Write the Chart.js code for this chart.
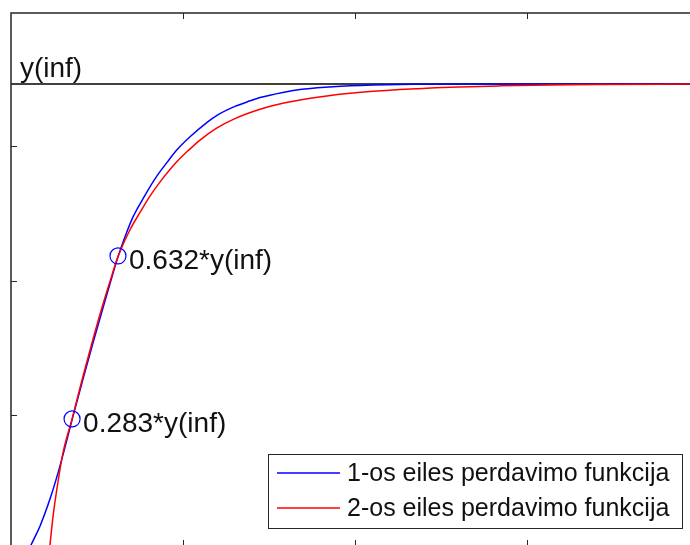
<!DOCTYPE html>
<html>
<head>
<meta charset="utf-8">
<script src="https://cdn.jsdelivr.net/npm/chart.js@4.4.1/dist/chart.umd.min.js"></script>
<style>
    html, body { margin: 0; padding: 0; background: #fff; overflow: hidden; }
    #chart { display: block; }
</style>
</head>
<body>
<canvas id="chart" width="690" height="546"></canvas>
<script>
// Series (time, response)
const blueX = [0.099, 0.128, 0.169, 0.227, 0.273, 0.308, 0.355, 0.419, 0.477, 0.535, 0.576, 0.622, 0.663, 0.709, 0.767, 0.837, 0.913, 0.965, 1.041, 1.140, 1.198, 1.302, 1.390, 1.448, 1.581, 1.680, 1.826, 1.971, 2.262, 2.610, 2.959, 3.424, 3.948];
const blueY = [0.000, 0.022, 0.054, 0.112, 0.167, 0.214, 0.281, 0.369, 0.446, 0.521, 0.573, 0.630, 0.673, 0.715, 0.754, 0.797, 0.835, 0.859, 0.887, 0.918, 0.933, 0.952, 0.964, 0.971, 0.982, 0.988, 0.993, 0.996, 0.999, 1.000, 1.000, 1.000, 1.000];

const redX = [0.215, 0.227, 0.244, 0.273, 0.302, 0.355, 0.419, 0.477, 0.535, 0.576, 0.622, 0.692, 0.750, 0.808, 0.866, 0.965, 1.029, 1.099, 1.198, 1.302, 1.448, 1.581, 1.680, 1.826, 1.971, 2.262, 2.552, 2.843, 3.134, 3.424, 3.948];
const redY = [-0.023, 0.015, 0.073, 0.148, 0.210, 0.283, 0.375, 0.454, 0.529, 0.578, 0.630, 0.688, 0.725, 0.760, 0.790, 0.834, 0.857, 0.880, 0.906, 0.926, 0.946, 0.959, 0.966, 0.974, 0.980, 0.988, 0.993, 0.996, 0.998, 0.999, 1.000];

const seriesLabels = ["1-os eiles perdavimo funkcija", "2-os eiles perdavimo funkcija"];

// Marked points and their labels
const markX = [0.355, 0.622];
const markY = [0.283, 0.632];
const markLabels = ["0.283*y(inf)", "0.632*y(inf)"];

const yInf = 1;
const yInfLabel = "y(inf)";

// Axis range and tick positions
const xMin = 0, xMax = 3.948;
const yMin = 0.011, yMax = 1.152;
const xTicks = [1, 2, 3];
const yTicks = [0.2915, 0.5783, 0.8673];

const FONT = '"Liberation Sans", Arial, sans-serif';

function toPoints(xs, ys) {
    return xs.map((x, i) => ({ x: x, y: ys[i] }));
}

// Box, inward ticks, text labels and legend
const decorations = {
    id: "decorations",
    afterDatasetsDraw(chart) {
        const ctx = chart.ctx;
        const a = chart.chartArea;
        const xs = chart.scales.x;
        const ys = chart.scales.y;

        ctx.save();
        ctx.strokeStyle = "#262626";
        ctx.lineWidth = 1.5;
        ctx.beginPath();
        ctx.moveTo(a.left, a.bottom);
        ctx.lineTo(a.left, a.top);
        ctx.lineTo(a.right, a.top);
        ctx.moveTo(a.left, a.bottom);
        ctx.lineTo(a.right, a.bottom);
        ctx.stroke();

        ctx.lineWidth = 1;
        ctx.beginPath();
        xTicks.forEach(t => {
            const px = Math.round(xs.getPixelForValue(t)) + 0.5;
            ctx.moveTo(px, a.top);
            ctx.lineTo(px, a.top + 6);
            ctx.moveTo(px, a.bottom);
            ctx.lineTo(px, a.bottom - 6);
        });
        yTicks.forEach(t => {
            const py = Math.round(ys.getPixelForValue(t)) + 0.5;
            ctx.moveTo(a.left, py);
            ctx.lineTo(a.left + 6, py);
        });
        ctx.stroke();

        // text next to the marked points
        ctx.fillStyle = "#111";
        ctx.font = "28px " + FONT;
        ctx.textBaseline = "alphabetic";
        ctx.textAlign = "left";
        markLabels.forEach((lab, i) => {
            const px = xs.getPixelForValue(markX[i]);
            const py = ys.getPixelForValue(markY[i]);
            ctx.fillText(lab, px + 11, py + 13);
        });
        ctx.fillText(yInfLabel, xs.getPixelForValue(0.052), ys.getPixelForValue(yInf) - 7);

        // legend
        const lx = 268, ly = 454, lw = 414, lh = 74;
        ctx.fillStyle = "#fff";
        ctx.fillRect(lx, ly, lw, lh);
        ctx.strokeStyle = "#262626";
        ctx.lineWidth = 1;
        ctx.strokeRect(lx + 0.5, ly + 0.5, lw, lh);
        ctx.font = "25px " + FONT;
        ctx.textBaseline = "middle";
        [chart.data.datasets[1], chart.data.datasets[2]].forEach((ds, i) => {
            const y = ly + 19 + i * 35;
            ctx.strokeStyle = ds.borderColor;
            ctx.lineWidth = 1.5;
            ctx.beginPath();
            ctx.moveTo(lx + 9, y);
            ctx.lineTo(lx + 72, y);
            ctx.stroke();
            ctx.fillStyle = "#111";
            ctx.fillText(ds.label, lx + 79, y + 1);
        });
        ctx.restore();
    }
};

new Chart(document.getElementById("chart"), {
    type: "scatter",
    data: {
        datasets: [
            {
                label: "y(inf)",
                data: [{ x: xMin, y: yInf }, { x: xMax, y: yInf }],
                showLine: true,
                borderColor: "#000",
                borderWidth: 1.5,
                pointRadius: 0,
                order: 3
            },
            {
                label: seriesLabels[0],
                data: toPoints(blueX, blueY),
                showLine: true,
                borderColor: "#0000ff",
                borderWidth: 1.5,
                pointRadius: 0,
                cubicInterpolationMode: "monotone",
                order: 2
            },
            {
                label: seriesLabels[1],
                data: toPoints(redX, redY),
                showLine: true,
                borderColor: "#ff0000",
                borderWidth: 1.5,
                pointRadius: 0,
                cubicInterpolationMode: "monotone",
                order: 1
            },
            {
                label: "marks",
                data: toPoints(markX, markY),
                showLine: false,
                pointStyle: "circle",
                pointRadius: 8,
                borderColor: "#0000ff",
                borderWidth: 1.2,
                backgroundColor: "rgba(0,0,0,0)",
                order: 0
            }
        ]
    },
    options: {
        responsive: false,
        animation: false,
        layout: { autoPadding: false, padding: { left: 11, top: 13, right: 0, bottom: 0 } },
        plugins: {
            legend: { display: false },
            tooltip: { enabled: false }
        },
        scales: {
            x: { type: "linear", min: xMin, max: xMax, display: false },
            y: { type: "linear", min: yMin, max: yMax, display: false }
        }
    },
    plugins: [decorations]
});
</script>
</body>
</html>
